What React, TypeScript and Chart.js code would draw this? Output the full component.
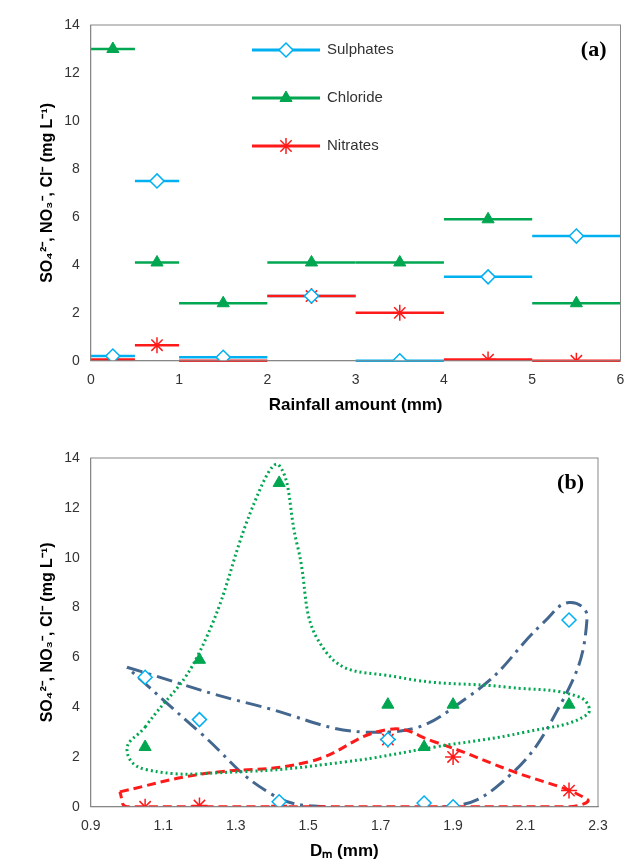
import React, { useEffect, useRef } from 'react';
import Chart from 'chart.js/auto';
import { drawPoint } from 'chart.js/helpers';

// Panel (a): rainfall classes
const classLow = [0, 0.5, 1, 2, 3, 4, 5];
const classHigh = [0.5, 1, 2, 3, 4, 5, 6];
const classMid = [0.25, 0.75, 1.5, 2.5, 3.5, 4.5, 5.5];
const sulphates = [0.2, 7.5, 0.15, 2.7, 0, 3.5, 5.2];
const chloride = [13, 4.1, 2.4, 4.1, 4.1, 5.9, 2.4];
const nitrates = [0.05, 0.65, 0, 2.7, 2.0, 0.05, 0];

// Panel (b): median diameter per class
const dm = [1.42, 2.22, 1.82, 1.72, 1.9, 1.2, 1.05];

// Hand-drawn envelopes in panel (b)
const greenLoopX = [1.05, 1.2, 1.36, 1.42, 1.47, 1.55, 1.75, 2.05, 2.25, 2.27, 2.1, 1.85, 1.6, 1.3, 1.05, 1.0, 1.05];
const greenLoopY = [3.2, 6.2, 12.5, 13.7, 10.5, 6.2, 5.2, 4.8, 4.4, 3.7, 3.0, 2.4, 1.8, 1.4, 1.5, 2.3, 3.2];
const redLoopX = [0.98, 1.2, 1.5, 1.72, 1.85, 2.05, 2.27, 2.22, 1.9, 1.4, 1.0, 0.98];
const redLoopY = [0.6, 1.3, 1.8, 3.1, 2.6, 1.5, 0.3, 0.0, 0.0, 0.0, 0.0, 0.6];
const blueLoopX = [1.0, 1.35, 1.72, 1.95, 2.15, 2.22, 2.27, 2.2, 2.02, 1.85, 1.55, 1.4, 1.2, 1.0];
const blueLoopY = [5.6, 4.1, 3.0, 4.5, 7.4, 8.2, 7.6, 4.2, 0.8, -0.05, 0.0, 0.5, 3.0, 5.6];

const C_SUL = '#00b0f0';
const C_CHL = '#00a650';
const C_NIT = '#ff1a1a';
const FONT = 'Liberation Sans, Arial, sans-serif';
const yTitle = 'SO\u2084\u00b2\u207b, NO\u2083\u207b, Cl\u207b (mg L\u207b\u00b9)';

const pts = (xs: number[], ys: number[]) => xs.map((x, i) => ({ x, y: ys[i] }));

const frame = {
  id: 'frame',
  afterDraw(chart: any) {
    const { ctx, chartArea: a } = chart;
    ctx.save();
    ctx.strokeStyle = '#888';
    ctx.lineWidth = 1;
    ctx.strokeRect(a.left, a.top, a.right - a.left, a.bottom - a.top);
    ctx.restore();
  },
};

const label = (txt: string) => ({
  id: 'panelLabel' + txt,
  afterDraw(chart: any) {
    const { ctx, chartArea: a } = chart;
    ctx.save();
    ctx.font = 'bold 22px "Liberation Serif", serif';
    ctx.textAlign = 'right';
    ctx.textBaseline = 'top';
    ctx.fillStyle = '#000';
    ctx.fillText(txt, a.right - 14, a.top + 14);
    ctx.restore();
  },
});

const xBars = {
  id: 'xBars',
  beforeDatasetsDraw(chart: any) {
    const { ctx, scales } = chart;
    const series = [
      { vals: sulphates, c: C_SUL },
      { vals: chloride, c: C_CHL },
      { vals: nitrates, c: C_NIT },
    ];
    ctx.save();
    ctx.lineWidth = 2.5;
    series.forEach((s) => {
      ctx.strokeStyle = s.c;
      s.vals.forEach((v, i) => {
        const y = scales.y.getPixelForValue(v);
        ctx.beginPath();
        ctx.moveTo(scales.x.getPixelForValue(classLow[i]), y);
        ctx.lineTo(scales.x.getPixelForValue(classHigh[i]), y);
        ctx.stroke();
      });
    });
    ctx.restore();
  },
};

const legendA = {
  id: 'legendA',
  afterDraw(chart: any) {
    const { ctx } = chart;
    const items = [
      { t: 'Sulphates', c: C_SUL, ds: 0 },
      { t: 'Chloride', c: C_CHL, ds: 1 },
      { t: 'Nitrates', c: C_NIT, ds: 2 },
    ];
    ctx.save();
    items.forEach((it, i) => {
      const y = 50 + i * 48;
      ctx.strokeStyle = it.c;
      ctx.lineWidth = 3;
      ctx.beginPath();
      ctx.moveTo(252, y);
      ctx.lineTo(320, y);
      ctx.stroke();
      const d = chart.data.datasets[it.ds];
      ctx.fillStyle = d.backgroundColor;
      ctx.lineWidth = d.pointBorderWidth;
      drawPoint(ctx, {
        pointStyle: d.pointStyle, radius: d.pointRadius, rotation: 0,
        borderWidth: d.pointBorderWidth,
      } as any, 286, y);
      ctx.fillStyle = '#333';
      ctx.font = `15px ${FONT}`;
      ctx.textBaseline = 'middle';
      ctx.fillText(it.t, 327, y);
    });
    ctx.restore();
  },
};

const markerSets = (xs: number[]) => [
  {
    label: 'Sulphates', data: pts(xs, sulphates), pointStyle: 'rectRot', pointRadius: 7,
    pointBorderWidth: 1.5, borderColor: C_SUL, backgroundColor: '#fff', pointBorderColor: C_SUL,
  },
  {
    label: 'Chloride', data: pts(xs, chloride), pointStyle: 'triangle', pointRadius: 7,
    pointBorderWidth: 1, borderColor: C_CHL, backgroundColor: C_CHL, pointBorderColor: C_CHL,
  },
  {
    label: 'Nitrates', data: pts(xs, nitrates), pointStyle: 'star', pointRadius: 8,
    pointBorderWidth: 1.5, borderColor: C_NIT, backgroundColor: C_NIT, pointBorderColor: C_NIT,
  },
];

const yAxis = {
  min: 0, max: 14,
  border: { color: '#888' },
  grid: { display: false },
  ticks: { stepSize: 2, color: '#333', font: { size: 14, family: FONT } },
  title: { display: true, text: yTitle, color: '#000', font: { size: 16, weight: 'bold' as const, family: FONT } },
};

const App: React.FC = () => {
  const refA = useRef<HTMLCanvasElement | null>(null);
  const refB = useRef<HTMLCanvasElement | null>(null);

  useEffect(() => {
    if (!refA.current || !refB.current) return;
    const chartA = new Chart(refA.current, {
      type: 'scatter',
      data: { datasets: markerSets(classMid) as any },
      options: {
        animation: false,
        responsive: false,
        layout: { padding: { top: 25, right: 4, left: 34, bottom: 0 } },
        plugins: { legend: { display: false }, tooltip: { enabled: false } },
        scales: {
          x: {
            min: 0, max: 6,
            border: { color: '#888' },
            grid: { display: false },
            ticks: { stepSize: 1, color: '#333', font: { size: 14, family: FONT } },
            title: { display: true, text: 'Rainfall amount (mm)', color: '#000', font: { size: 17, weight: 'bold', family: FONT } },
          },
          y: yAxis as any,
        },
      },
      plugins: [xBars, frame, legendA, label('(a)')],
    });

    const loop = (xs: number[], ys: number[], c: string, dash: number[]) => ({
      data: pts(xs, ys), showLine: true, pointRadius: 0, borderColor: c, borderWidth: 3,
      borderDash: dash, tension: 0.45, fill: false,
    });

    const chartB = new Chart(refB.current, {
      type: 'scatter',
      data: {
        datasets: [
          ...markerSets(dm),
          loop(greenLoopX, greenLoopY, C_CHL, [2, 3]),
          loop(redLoopX, redLoopY, C_NIT, [9, 5]),
          loop(blueLoopX, blueLoopY, '#44678f', [16, 6, 3, 6]),
        ] as any,
      },
      options: {
        animation: false,
        responsive: false,
        layout: { padding: { top: 38, right: 32, left: 34, bottom: 0 } },
        plugins: { legend: { display: false }, tooltip: { enabled: false } },
        scales: {
          x: {
            min: 0.9, max: 2.3,
            border: { color: '#888' },
            grid: { display: false },
            ticks: { stepSize: 0.2, color: '#333', font: { size: 14, family: FONT }, callback: (v: any) => Number(v).toFixed(1) },
            title: { display: true, text: 'D\u2098 (mm)', color: '#000', font: { size: 17, weight: 'bold', family: FONT } },
          },
          y: yAxis as any,
        },
      },
      plugins: [frame, label('(b)')],
    });

    return () => {
      chartA.destroy();
      chartB.destroy();
    };
  }, []);

  return (
    <div style={{ position: 'absolute', left: 0, top: 0, width: 630, height: 866, background: '#fff' }}>
      <canvas ref={refA} width={630} height={420} style={{ display: 'block' }} />
      <canvas ref={refB} width={630} height={446} style={{ display: 'block' }} />
    </div>
  );
};

export default App;
